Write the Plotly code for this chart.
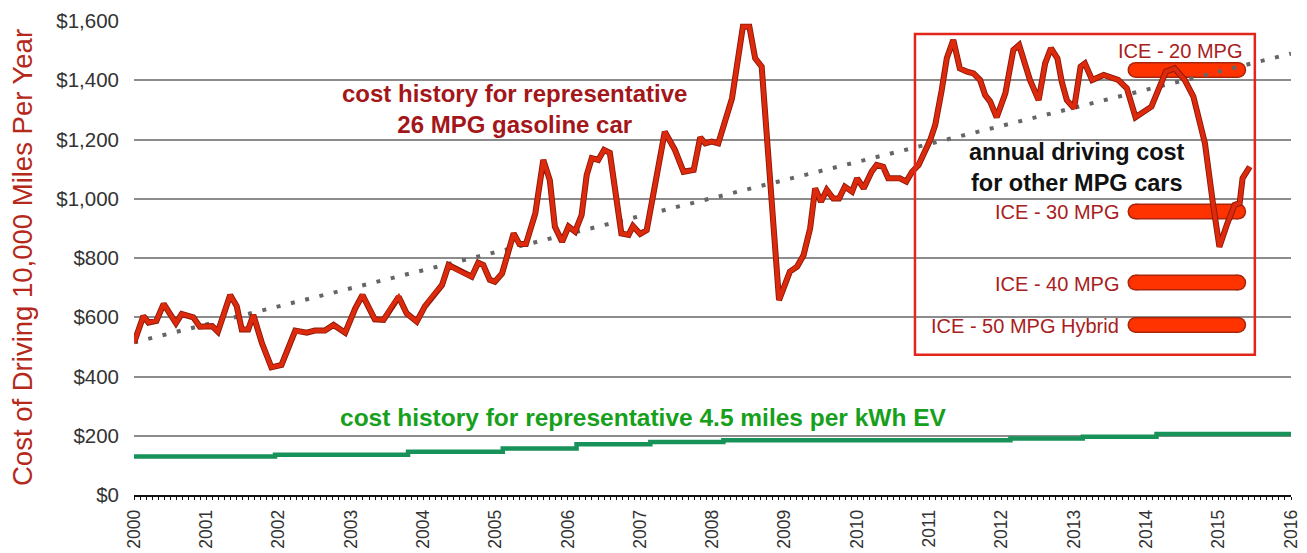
import plotly.graph_objects as go

# ---------------- data ----------------
# gasoline car (26 MPG) annual cost, x in decimal years
gas_year = [2000.00, 2000.13, 2000.20, 2000.31, 2000.41, 2000.58, 2000.66, 2000.82, 2000.91,
            2001.08, 2001.16, 2001.22, 2001.33, 2001.42, 2001.49, 2001.58, 2001.65, 2001.77, 2001.90,
            2002.04, 2002.23, 2002.39, 2002.50, 2002.64, 2002.76, 2002.92,
            2003.06, 2003.16, 2003.33, 2003.45, 2003.56, 2003.66, 2003.77, 2003.91,
            2004.02, 2004.12, 2004.26, 2004.35, 2004.51, 2004.67, 2004.76, 2004.83, 2004.92, 2004.99,
            2005.09, 2005.25, 2005.33, 2005.42, 2005.55, 2005.66, 2005.75, 2005.82, 2005.92,
            2006.01, 2006.10, 2006.19, 2006.26, 2006.33, 2006.42, 2006.50, 2006.58, 2006.74, 2006.84, 2006.90,
            2007.00, 2007.09, 2007.18, 2007.34, 2007.48, 2007.60, 2007.74, 2007.83, 2007.90, 2007.99,
            2008.08, 2008.27, 2008.42, 2008.51, 2008.59, 2008.68, 2008.92,
            2009.07, 2009.17, 2009.26, 2009.35, 2009.42, 2009.50, 2009.58, 2009.67, 2009.75, 2009.83, 2009.93,
            2010.00, 2010.09, 2010.20, 2010.27, 2010.36, 2010.43, 2010.59, 2010.68, 2010.76, 2010.85,
            2011.01, 2011.08, 2011.17, 2011.24, 2011.33, 2011.42, 2011.52, 2011.61, 2011.70, 2011.77, 2011.84, 2011.93,
            2012.05, 2012.16, 2012.24, 2012.39, 2012.51, 2012.60, 2012.68, 2012.77, 2012.83, 2012.90,
            2013.00, 2013.09, 2013.15, 2013.25, 2013.41, 2013.61, 2013.73, 2013.85,
            2014.07, 2014.17, 2014.27, 2014.39, 2014.53, 2014.65, 2014.81, 2014.92,
            2015.01, 2015.12, 2015.22, 2015.29, 2015.33, 2015.43]
gas_cost = [514, 604, 582, 588, 645, 580, 611, 600, 568,
            570, 551, 596, 675, 638, 559, 559, 608, 512, 431,
            439, 555, 548, 555, 555, 574, 548,
            630, 675, 593, 591, 636, 669, 613, 585,
            636, 669, 709, 776, 754, 737, 784, 776, 726, 720,
            748, 883, 847, 847, 951, 1131, 1063, 906, 855,
            906, 889, 945, 1080, 1137, 1131, 1165, 1155, 883, 878, 908,
            881, 894, 1013, 1226, 1165, 1091, 1097, 1207, 1187, 1193,
            1187, 1339, 1581, 1581, 1474, 1446, 658,
            754, 771, 810, 900, 1035, 990, 1030, 1001, 1001, 1041, 1024,
            1069, 1035, 1091, 1114, 1108, 1069, 1069, 1058, 1091, 1114,
            1198, 1249, 1367, 1474, 1536, 1440, 1429, 1423, 1401, 1350, 1328, 1275,
            1356, 1502, 1519, 1401, 1333, 1457, 1508, 1474, 1395, 1333,
            1305, 1446, 1457, 1401, 1418, 1401, 1373, 1275,
            1311, 1373, 1429, 1440, 1401, 1345, 1187, 985,
            838, 917, 979, 985, 1069, 1108]

# linear trend of gasoline cost
trend_year = [2000.0, 2016.0]
trend_cost = [515, 1490]

# EV (4.5 miles per kWh) annual cost, step changes
ev_year = [2000.00, 2001.95, 2003.79, 2005.10, 2006.12, 2007.14, 2008.15, 2012.12, 2013.12, 2014.14, 2016.00]
ev_cost = [130, 136, 146, 157, 171, 179, 185, 191, 197, 206, 206]

# current annual cost for other MPG cars
ice_labels = ["ICE - 20 MPG", "ICE - 30 MPG", "ICE - 40 MPG", "ICE - 50 MPG Hybrid"]
ice_cost = [1435, 957, 717, 574]
ice_span = [2013.85, 2015.27]

year_ticks = list(range(2000, 2017))
year_text = [str(y) for y in year_ticks]
y_ticks = [0, 200, 400, 600, 800, 1000, 1200, 1400, 1600]
y_text = ["$0", "$200", "$400", "$600", "$800", "$1,000", "$1,200", "$1,400", "$1,600"]

# ---------------- figure ----------------
FONT = "Liberation Sans, Arial, Helvetica, sans-serif"
fig = go.Figure()

# ICE bars (rounded ends via end markers)
for c in ice_cost:
    fig.add_trace(go.Scatter(x=ice_span, y=[c, c], mode="lines+markers",
                             line=dict(color="#a8260c", width=16),
                             marker=dict(size=16, color="#a8260c", line=dict(width=0)),
                             hoverinfo="skip", showlegend=False))
    fig.add_trace(go.Scatter(x=ice_span, y=[c, c], mode="lines+markers",
                             line=dict(color="#ff3300", width=13),
                             marker=dict(size=13, color="#ff3300", line=dict(width=0)),
                             hoverinfo="skip", showlegend=False))

# trend (dotted)
fig.add_trace(go.Scatter(x=trend_year, y=trend_cost, mode="lines",
                         line=dict(color="#666666", width=4, dash="4px,10.7px"),
                         hoverinfo="skip", showlegend=False))

# EV line
fig.add_trace(go.Scatter(x=ev_year, y=ev_cost, mode="lines", line_shape="hv",
                         line=dict(color="#17935a", width=4.5),
                         showlegend=False))

# gasoline line: dark outline + red core
fig.add_trace(go.Scatter(x=gas_year, y=gas_cost, mode="lines",
                         line=dict(color="#8a1808", width=6),
                         hoverinfo="skip", showlegend=False))
fig.add_trace(go.Scatter(x=gas_year, y=gas_cost, mode="lines",
                         line=dict(color="#dd2a0c", width=4.2),
                         showlegend=False))

# red box around the "other MPG" area
fig.add_shape(type="rect", xref="x", yref="y", x0=2010.80, x1=2015.50, y0=473, y1=1556,
              line=dict(color="#e3261b", width=2.5), layer="above")

# ---------------- annotations ----------------
fig.add_annotation(x=2005.26, y=1303, xref="x", yref="y", showarrow=False,
                   text="<b>cost history for representative<br>26 MPG gasoline car</b>",
                   font=dict(family=FONT, size=24, color="#a3161a"), align="center")
fig.add_annotation(x=2007.04, y=262, xref="x", yref="y", showarrow=False,
                   text="<b>cost history for representative 4.5 miles per kWh EV</b>",
                   font=dict(family=FONT, size=24.5, color="#16a01c"), align="center")
fig.add_annotation(x=2013.04, y=1104, xref="x", yref="y", showarrow=False,
                   text="<b>annual driving cost<br>for other MPG cars</b>",
                   font=dict(family=FONT, size=23.5, color="#111111"), align="center")

# ICE labels
fig.add_annotation(x=ice_span[1], y=ice_cost[0], xref="x", yref="y", showarrow=False,
                   text=ice_labels[0], xanchor="right", yanchor="middle", xshift=6, yshift=19,
                   font=dict(family=FONT, size=20, color="#a8201c"))
for lab, c in zip(ice_labels[1:], ice_cost[1:]):
    fig.add_annotation(x=ice_span[0], y=c, xref="x", yref="y", showarrow=False,
                       text=lab, xanchor="right", yanchor="middle", xshift=-15, yshift=-1,
                       font=dict(family=FONT, size=20, color="#a8201c"))

# y-axis title
fig.add_annotation(x=0, y=0.5, xref="paper", yref="paper", xshift=-112, showarrow=False,
                   text="Cost of Driving 10,000 Miles Per Year", textangle=-90,
                   xanchor="center", yanchor="middle",
                   font=dict(family=FONT, size=27.5, color="#b5281c"))

fig.update_layout(
    width=1307, height=553,
    margin=dict(l=134, r=16, t=21, b=58, autoexpand=False),
    paper_bgcolor="white", plot_bgcolor="white",
    font=dict(family=FONT, color="#333333"),
    showlegend=False,
    xaxis=dict(range=[2000, 2016], tickvals=year_ticks, ticktext=year_text, automargin=False,
               tickangle=-90, tickfont=dict(size=17.5, color="#333333"),
               showgrid=False, zeroline=False, showline=True, linecolor="#111111", linewidth=1.5,
               ticks="outside", ticklen=3, tickwidth=1, tickcolor="#111111",
               minor=dict(dtick=1/12, tick0=2000, ticks="outside", ticklen=3, tickwidth=1,
                          tickcolor="#111111", showgrid=False),
               ticklabelstandoff=3),
    xaxis2=dict(range=[2000, 2016], overlaying="x", anchor="y", side="bottom", automargin=False,
                showticklabels=False, showgrid=False, zeroline=False, showline=False,
                tickvals=year_ticks, ticks="inside", ticklen=3, tickwidth=1, tickcolor="#111111",
                minor=dict(dtick=1/12, tick0=2000, ticks="inside", ticklen=3, tickwidth=1,
                           tickcolor="#111111", showgrid=False)),
    yaxis=dict(range=[0, 1600], tickvals=y_ticks, ticktext=y_text, automargin=False,
               tickfont=dict(size=20.5, color="#333333"),
               showgrid=True, gridcolor="#8c8c8c", gridwidth=1.5,
               zeroline=False, showline=False, ticks="", ticklabelstandoff=14),
)

fig.write_html("out.html", config={"displayModeBar": False},
               post_script="document.body.style.margin='0';document.body.style.overflow='hidden';")
